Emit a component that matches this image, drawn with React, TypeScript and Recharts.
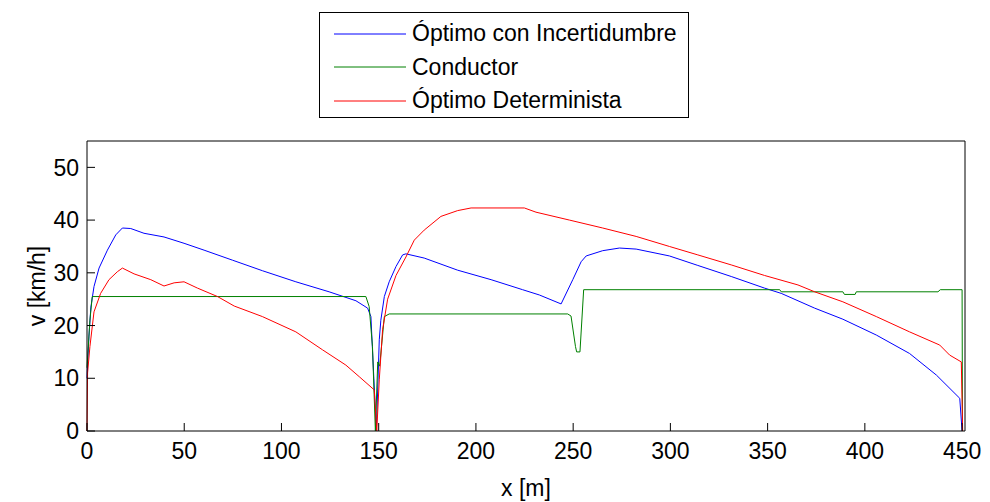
import React from 'react';
import { LineChart, Line, XAxis, YAxis, Legend } from 'recharts';

// Óptimo con Incertidumbre
const blueX = [0, 1, 2, 3.6, 6.2, 10.5, 14.8, 18.2, 22.5, 29.3, 39.6, 49.9, 60.2, 74.8, 90.2, 107.4, 124.5, 138.3, 144.3, 146, 147.5, 148.8, 150.3, 151.1, 152.9, 155.4, 158.9, 162.3, 164, 173.4, 190.6, 207.8, 224, 232.6, 243.8, 249.8, 254.1, 256.7, 265.2, 273.8, 282.4, 299.5, 314.1, 331.3, 348.4, 357, 374.2, 388.7, 405.9, 423, 436.8, 448.8, 450];
const blueY = [10, 18, 23.5, 27.4, 30.9, 34.3, 37.2, 38.5, 38.4, 37.5, 36.8, 35.6, 34.3, 32.4, 30.4, 28.3, 26.4, 24.7, 23.3, 21.7, 10, 0, 17.3, 21, 25.5, 28.3, 31.2, 33.4, 33.6, 32.8, 30.5, 28.7, 26.8, 25.8, 24.1, 28.7, 32.1, 33.2, 34.2, 34.7, 34.5, 33.2, 31.4, 29.3, 27.1, 26.1, 23.3, 21.2, 18.2, 14.7, 10.6, 6.2, 0];

// Conductor
const greenX = [0, 1.5, 2.7, 143.4, 145.1, 146.8, 148.3, 149.5, 150.5, 152.9, 155.4, 247.2, 248.9, 251.2, 251.8, 253.5, 255.4, 356.2, 357, 388.7, 389.5, 395, 395.6, 437.6, 438.8, 450, 450.2];
const greenY = [12, 21, 25.5, 25.5, 23.6, 16, 0, 13.1, 12.3, 21.7, 22.2, 22.2, 21.8, 16, 15, 15, 26.8, 26.8, 26.4, 26.4, 25.9, 25.9, 26.4, 26.4, 26.8, 26.8, 0];

// Óptimo Determinista
const redX = [0, 0.3, 1.5, 3.6, 7, 11.3, 15.6, 18.2, 24.2, 32.8, 39.6, 44.8, 49.9, 56.8, 67.1, 75.7, 90.2, 107.4, 121.1, 133.1, 140, 147.7, 149, 150.3, 152, 154.6, 158.9, 164, 168.3, 173.4, 182, 190.6, 197.5, 224.9, 230.9, 248.1, 265.2, 282.4, 299.5, 314.1, 331.3, 348.4, 365.6, 374.2, 388.7, 405.9, 423, 438.5, 443.6, 449.6, 450.3];
const redY = [0, 11, 16, 22.6, 26.1, 28.7, 30.2, 30.9, 29.8, 28.7, 27.5, 28.1, 28.3, 27.1, 25.5, 23.7, 21.7, 18.8, 15.4, 12.5, 10.3, 7.8, 0, 9.7, 19.2, 25, 29.5, 33, 36.2, 38.1, 40.7, 41.8, 42.3, 42.3, 41.5, 40, 38.5, 36.9, 35, 33.4, 31.5, 29.5, 27.7, 26.4, 24.5, 21.7, 18.8, 16.3, 14.4, 13.1, 0];

const seriesNames = ['Óptimo con Incertidumbre', 'Conductor', 'Óptimo Determinista'];
const xTicks = [0, 50, 100, 150, 200, 250, 300, 350, 400, 450];
const yTicks = [0, 10, 20, 30, 40, 50];

const toPoints = (xs: number[], ys: number[]) => xs.map((x, i) => ({ x, y: ys[i] }));

const blueData = toPoints(blueX, blueY);
const greenData = toPoints(greenX, greenY);
const redData = toPoints(redX, redY);

const font = "'Liberation Sans', Arial, sans-serif";
const FS = 23;
const TICK = 8;

// ticks point inward, MATLAB style
const BottomTick = ({ x, y, payload }: any) => (
  <g>
    <line x1={x} x2={x} y1={y - 12} y2={y - 12 - TICK} stroke="#000" />
    <text x={x} y={y} dy="0.71em" textAnchor="middle" fill="#000" fontSize={FS}>{payload.value}</text>
  </g>
);
const LeftTick = ({ x, y, payload }: any) => (
  <g>
    <line x1={x + 8} x2={x + 8 + TICK} y1={y} y2={y} stroke="#000" />
    <text x={x} y={y} dy="0.355em" textAnchor="end" fill="#000" fontSize={FS}>{payload.value}</text>
  </g>
);
const TopTick = ({ x, y }: any) => <line x1={x} x2={x} y1={y} y2={y + TICK} stroke="#000" />;
const RightTick = ({ x, y }: any) => <line x1={x} x2={x - TICK} y1={y} y2={y} stroke="#000" />;

function LegendBox({ payload }: any) {
  const items = [...(payload || [])].sort(
    (a: any, b: any) => seriesNames.indexOf(a.value) - seriesNames.indexOf(b.value)
  );
  return (
    <div
      style={{
        border: '1px solid #000',
        width: 370,
        height: 106,
        boxSizing: 'border-box',
        background: '#fff',
        paddingTop: 4,
        fontFamily: font,
      }}
    >
      {items.map((entry: any) => (
        <div key={entry.value} style={{ display: 'flex', alignItems: 'center', height: 33.5 }}>
          <svg width={86} height={10} style={{ flexShrink: 0 }}>
            <line x1={14} x2={86} y1={5} y2={5} stroke={entry.color} strokeWidth={1} />
          </svg>
          <span style={{ marginLeft: 6, fontSize: FS, color: '#000', whiteSpace: 'nowrap' }}>{entry.value}</span>
        </div>
      ))}
    </div>
  );
}

export default function App() {
  return (
    <div style={{ position: 'absolute', left: 0, top: 0, width: 990, height: 502, background: '#fff', fontFamily: font }}>
      <LineChart width={990} height={502} margin={{ top: 140, right: 24, bottom: 41, left: 27 }}>
        <XAxis
          type="number"
          dataKey="x"
          domain={[0, 451.5]}
          ticks={xTicks}
          interval={0}
          height={30}
          stroke="#000"
          tickLine={false}
          tickSize={0}
          tickMargin={12}
          tick={<BottomTick />}
          label={{ value: 'x [m]', position: 'bottom', offset: 19, fill: '#000', fontSize: FS }}
        />
        <XAxis
          xAxisId="top"
          orientation="top"
          type="number"
          dataKey="x"
          domain={[0, 451.5]}
          ticks={xTicks}
          interval={0}
          height={1}
          stroke="#000"
          tickLine={false}
          tickSize={0}
          tickMargin={0}
          tick={<TopTick />}
        />
        <YAxis
          type="number"
          domain={[0, 55]}
          ticks={yTicks}
          interval={0}
          width={60}
          stroke="#000"
          tickLine={false}
          tickSize={0}
          tickMargin={8}
          tick={<LeftTick />}
          label={{ value: 'v [km/h]', angle: -90, position: 'insideLeft', offset: 10, fill: '#000', fontSize: FS, style: { textAnchor: 'middle' } }}
        />
        <YAxis
          yAxisId="right"
          orientation="right"
          type="number"
          domain={[0, 55]}
          ticks={yTicks}
          interval={0}
          width={1}
          stroke="#000"
          tickLine={false}
          tickSize={0}
          tickMargin={0}
          tick={<RightTick />}
        />
        <Legend
          layout="vertical"
          align="center"
          verticalAlign="middle"
          content={<LegendBox />}
          wrapperStyle={{ position: 'absolute', left: 319, top: 12, width: 370, height: 106 }}
        />
        <Line data={blueData} dataKey="y" name={seriesNames[0]} stroke="#0000ff" strokeWidth={1} dot={false} isAnimationActive={false} />
        <Line data={greenData} dataKey="y" name={seriesNames[1]} stroke="#008000" strokeWidth={1} dot={false} isAnimationActive={false} />
        <Line data={redData} dataKey="y" name={seriesNames[2]} stroke="#ff0000" strokeWidth={1} dot={false} isAnimationActive={false} />
      </LineChart>
    </div>
  );
}
